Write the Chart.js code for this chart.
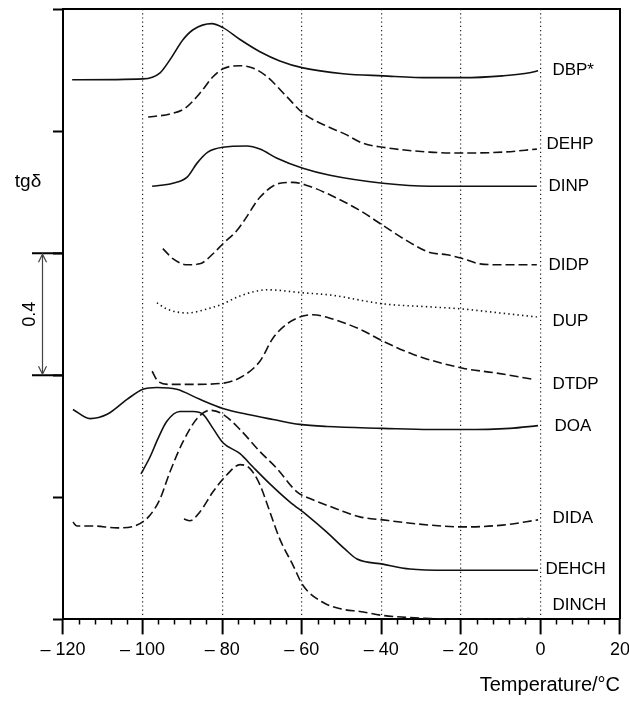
<!DOCTYPE html>
<html>
<head>
<meta charset="utf-8">
<script src="https://cdn.jsdelivr.net/npm/chart.js@4"></script>
<style>
  html, body { margin: 0; padding: 0; background: #fff; }
  canvas { display: block; }
</style>
</head>
<body>
<canvas id="myChart" width="629" height="701"></canvas>
<script>
// tg delta curves, each one shifted up as drawn
// points are [temperature in °C, tg delta]
const DBP = [[-117.7, 1.768], [-99.9, 1.771], [-95.6, 1.791], [-93.1, 1.834], [-89.8, 1.900],
  [-87.3, 1.932], [-82.6, 1.952], [-79.8, 1.939], [-75.5, 1.900], [-70.5, 1.860], [-65.5, 1.830],
  [-59.7, 1.807], [-49.6, 1.788], [-39.6, 1.781], [-27.8, 1.775], [-19.5, 1.775], [-9.5, 1.781],
  [-2.7, 1.791], [-0.6, 1.798]];
const DEHP = [[-98.6, 1.646], [-93.1, 1.656], [-89.3, 1.675], [-85.6, 1.724], [-82.3, 1.778],
  [-79.8, 1.804], [-75.5, 1.814], [-72.3, 1.807], [-68.7, 1.778], [-63.7, 1.712], [-59.7, 1.659],
  [-53.7, 1.616], [-49.1, 1.590], [-44.6, 1.560], [-39.6, 1.547], [-27.8, 1.531], [-19.5, 1.528],
  [-9.5, 1.531], [-0.9, 1.541]];
const DINP = [[-97.6, 1.419], [-92.4, 1.429], [-88.8, 1.449], [-86.3, 1.495], [-83.6, 1.531],
  [-79.8, 1.547], [-73.8, 1.551], [-70.5, 1.541], [-66.2, 1.511], [-59.7, 1.478], [-52.9, 1.455],
  [-39.6, 1.429], [-27.8, 1.419], [-19.5, 1.419], [-0.9, 1.419]];
const DIDP = [[-94.9, 1.215], [-92.4, 1.182], [-88.8, 1.162], [-85.6, 1.165], [-82.3, 1.198],
  [-79.8, 1.231], [-76.3, 1.274], [-74.3, 1.310], [-70.5, 1.383], [-65.5, 1.429], [-62.2, 1.432],
  [-58.7, 1.422], [-53.7, 1.396], [-45.4, 1.340], [-39.6, 1.291], [-33.6, 1.241], [-27.8, 1.202],
  [-23.5, 1.195], [-19.5, 1.182], [-15.2, 1.165], [-9.5, 1.162], [-0.9, 1.162]];
const DUP = [[-96.4, 1.037], [-93.9, 1.017], [-88.8, 1.004], [-83.8, 1.017], [-79.8, 1.034],
  [-75.5, 1.060], [-68.7, 1.080], [-59.7, 1.070], [-52.9, 1.063], [-39.6, 1.034], [-27.8, 1.024],
  [-19.5, 1.017], [-10.2, 1.004], [-0.9, 0.991]];
const DTDP = [[-97.6, 0.813], [-96.1, 0.780], [-93.1, 0.770], [-87.3, 0.770], [-79.8, 0.774],
  [-74.8, 0.797], [-70.5, 0.846], [-67.2, 0.922], [-63.7, 0.968], [-59.7, 0.994], [-57.2, 0.998],
  [-52.2, 0.984], [-45.4, 0.951], [-39.6, 0.912], [-32.1, 0.869], [-19.5, 0.823], [-11.0, 0.807],
  [-1.9, 0.787]];
const DOA = [[-117.5, 0.688], [-113.2, 0.658], [-108.9, 0.672], [-103.9, 0.721], [-99.9, 0.754],
  [-96.4, 0.760], [-91.4, 0.754], [-85.6, 0.721], [-79.8, 0.691], [-73.8, 0.672], [-67.2, 0.655],
  [-60.5, 0.639], [-53.7, 0.632], [-39.6, 0.626], [-27.8, 0.622], [-19.5, 0.622], [-7.7, 0.626],
  [-0.6, 0.635]];
const DIDA = [[-117.5, 0.319], [-116.5, 0.306], [-112.5, 0.306], [-106.4, 0.300], [-101.4, 0.309],
  [-98.1, 0.342], [-95.6, 0.395], [-93.1, 0.484], [-89.8, 0.583], [-86.3, 0.658], [-83.1, 0.685],
  [-79.8, 0.672], [-75.5, 0.622], [-70.5, 0.550], [-66.2, 0.494], [-61.2, 0.418], [-57.2, 0.392],
  [-51.2, 0.362], [-45.4, 0.336], [-39.6, 0.326], [-27.8, 0.309], [-19.5, 0.303], [-9.5, 0.309],
  [-0.6, 0.326]];
const DEHCH = [[-100.4, 0.477], [-98.1, 0.533], [-96.1, 0.593], [-93.9, 0.649], [-90.6, 0.681],
  [-87.3, 0.681], [-84.8, 0.672], [-82.3, 0.626], [-79.8, 0.579], [-75.5, 0.543], [-72.3, 0.500],
  [-68.0, 0.444], [-63.0, 0.385], [-58.7, 0.342], [-53.7, 0.286], [-49.1, 0.230], [-46.1, 0.198],
  [-39.6, 0.181], [-32.8, 0.165], [-23.5, 0.161], [-11.0, 0.161], [-0.6, 0.161]];
const DINCH = [[-89.6, 0.329], [-88.1, 0.323], [-85.6, 0.352], [-82.3, 0.418], [-78.8, 0.474],
  [-75.5, 0.507], [-73.0, 0.494], [-70.5, 0.441], [-68.0, 0.352], [-65.5, 0.263], [-62.2, 0.178],
  [-59.7, 0.112], [-54.7, 0.056], [-49.6, 0.033], [-45.4, 0.026], [-39.6, 0.013], [-27.8, 0.003],
  [-15.2, 0.000], [-2.7, 0.003]];

const curveNames = ['DBP*', 'DEHP', 'DINP', 'DIDP', 'DUP', 'DTDP', 'DOA', 'DIDA', 'DEHCH', 'DINCH'];
const curves = [DBP, DEHP, DINP, DIDP, DUP, DTDP, DOA, DIDA, DEHCH, DINCH];

const xTickValues = [-120, -100, -80, -60, -40, -20, 0, 20];
const xTickLabels = ['\u2013 120', '\u2013 100', '\u2013 80', '\u2013 60', '\u2013 40', '\u2013 20', '0', '20'];

const FONT = 'Liberation Sans, Arial, Helvetica, sans-serif';
const SOLID = [];
const DASHED = [9, 4];
const DOTTED = [1.4, 3.2];
const dashes = [SOLID, DASHED, SOLID, DASHED, DOTTED, DASHED, SOLID, DASHED, SOLID, DASHED];
// label nudges in px (dx, dy) so names sit like in the figure
const nudges = [[2, 0], [-4, -5], [-2, 0], [-2, 1], [2, 4], [2, 5], [4, 1], [2, -2], [-5, -1], [2, -13]];

const decorations = {
  id: 'decorations',
  afterDraw(chart) {
    const { ctx, chartArea: a, scales: { x, y } } = chart;
    ctx.save();
    ctx.strokeStyle = '#000';
    ctx.lineWidth = 2;
    // box top and right
    ctx.beginPath();
    ctx.moveTo(a.left - 1, a.top);
    ctx.lineTo(a.right, a.top);
    ctx.lineTo(a.right, a.bottom);
    ctx.stroke();

    // minor ticks every 4 degrees
    ctx.lineWidth = 1.5;
    ctx.beginPath();
    for (let v = -116; v < 20; v += 4) {
      if (v % 20 === 0) continue;
      const px = Math.round(x.getPixelForValue(v)) + 0.5;
      ctx.moveTo(px, a.bottom);
      ctx.lineTo(px, a.bottom + 5);
    }
    ctx.stroke();

    // long ticks that bracket the 0.4 scale bar
    const yTop = y.getPixelForValue(1.2);
    const yBot = y.getPixelForValue(0.8);
    ctx.lineWidth = 2;
    ctx.beginPath();
    ctx.moveTo(32, yTop); ctx.lineTo(a.left, yTop);
    ctx.moveTo(32, yBot); ctx.lineTo(a.left, yBot);
    ctx.stroke();

    // double arrow
    const ax = 42.5;
    ctx.strokeStyle = '#444';
    ctx.lineWidth = 1.2;
    ctx.beginPath();
    ctx.moveTo(ax, yTop + 1); ctx.lineTo(ax, yBot - 1);
    ctx.moveTo(ax - 4, yTop + 9); ctx.lineTo(ax, yTop + 1); ctx.lineTo(ax + 4, yTop + 9);
    ctx.moveTo(ax - 4, yBot - 9); ctx.lineTo(ax, yBot - 1); ctx.lineTo(ax + 4, yBot - 9);
    ctx.stroke();

    ctx.fillStyle = '#000';
    ctx.font = '18px ' + FONT;
    ctx.textAlign = 'center';
    ctx.textBaseline = 'middle';
    ctx.save();
    ctx.translate(30, (yTop + yBot) / 2);
    ctx.rotate(-Math.PI / 2);
    ctx.fillText('0.4', 0, 0);
    ctx.restore();

    ctx.font = '19px ' + FONT;
    ctx.fillText('tg\u03b4', 28, 182);

    // curve names at the right end
    ctx.font = '17px ' + FONT;
    ctx.textAlign = 'left';
    const lx = x.getPixelForValue(2.5);
    curves.forEach((pts, i) => {
      const last = pts[pts.length - 1];
      ctx.fillText(curveNames[i], lx + nudges[i][0], y.getPixelForValue(last[1]) + nudges[i][1]);
    });
    ctx.restore();
  }
};

const ctx = document.getElementById('myChart');
const myChart = new Chart(ctx, {
  type: 'line',
  data: {
    datasets: curves.map((pts, i) => ({
      label: curveNames[i],
      data: pts.map(([t, v]) => ({ x: t, y: v })),
      borderColor: '#111',
      borderWidth: 1.6,
      borderDash: dashes[i],
      pointRadius: 0,
      fill: false,
      cubicInterpolationMode: 'monotone',
    })),
  },
  options: {
    responsive: false,
    animation: false,
    devicePixelRatio: 1,
    layout: { padding: { left: 53, top: 9, right: 0, bottom: 4 } },
    plugins: { legend: { display: false }, tooltip: { enabled: false } },
    scales: {
      x: {
        type: 'linear',
        min: -120,
        max: 20,
        afterFit: (scale) => { scale.paddingRight = 9; },
        ticks: {
          stepSize: 20,
          autoSkip: false,
          maxRotation: 0,
          padding: 5,
          color: '#000',
          font: { family: FONT, size: 18 },
          callback: (v) => xTickLabels[xTickValues.indexOf(v)],
        },
        grid: {
          color: (c) => (c.tick && c.tick.value > -120 && c.tick.value < 20 ? '#222' : 'rgba(0,0,0,0)'),
          lineWidth: 1.2,
          tickColor: '#000',
          tickWidth: 2,
          tickLength: 15,
        },
        border: { display: true, color: '#000', width: 2, dash: [1.2, 3] },
        title: {
          display: true,
          text: 'Temperature/\u00b0C',
          align: 'end',
          color: '#000',
          font: { family: FONT, size: 20 },
          padding: { top: 7, bottom: 0 },
        },
      },
      y: {
        type: 'linear',
        min: 0,
        max: 2,
        ticks: { stepSize: 0.4, display: false },
        grid: {
          drawOnChartArea: false,
          tickColor: '#000',
          tickWidth: 2,
          tickLength: 10,
        },
        border: { display: true, color: '#000', width: 2 },
      },
    },
  },
  plugins: [decorations],
});
</script>
</body>
</html>
